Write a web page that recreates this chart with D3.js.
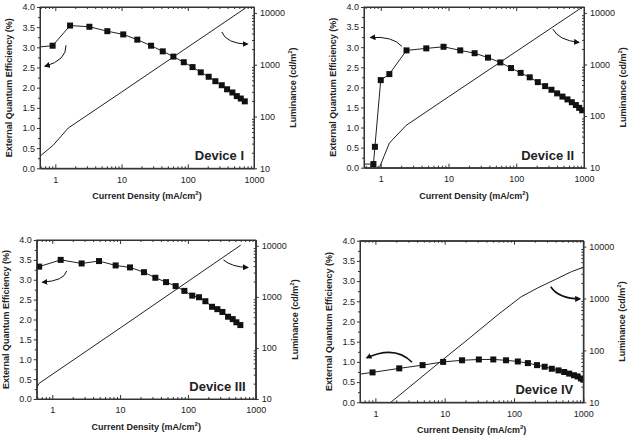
<!DOCTYPE html>
<html>
<head>
<meta charset="utf-8">
<script src="https://cdn.jsdelivr.net/npm/d3@7"></script>
<style>
  body { margin: 0; background: #fff; }
  text { font-family: "Liberation Sans", Arial, sans-serif; fill: #222; }
</style>
</head>
<body>
<svg id="chart" width="629" height="439"></svg>
<script>
// tick values
const xTicks = [1, 10, 100, 1000];
const eqeTicks = [0, 0.5, 1, 1.5, 2, 2.5, 3, 3.5, 4];
const lumTicks = [10, 100, 1000, 10000];
const deviceNames = ['Device I', 'Device II', 'Device III', 'Device IV'];

// Device I
const jEqe1 = [0.5, 0.91, 1.67, 3.27, 6.1, 10.6, 17.3, 27.9, 41.9, 60.6, 87, 118, 157, 207, 261, 326, 392, 472, 550, 631, 726];
const eqe1 = [3.0, 3.04, 3.54, 3.51, 3.40, 3.32, 3.19, 3.04, 2.90, 2.77, 2.63, 2.51, 2.38, 2.27, 2.16, 2.06, 1.96, 1.88, 1.79, 1.73, 1.66];
const jLum1 = [0.55, 0.93, 1.57, 10, 750];
const lum1 = [16, 28, 60, 296, 12500];

// Device II
const jEqe2 = [0.5, 0.78, 0.82, 1.0, 1.34, 2.4, 4.7, 8.45, 14.9, 24.3, 38.3, 58.2, 83.7, 116, 158, 208, 267, 331, 401, 481, 570, 661, 758, 849, 940];
const eqe2 = [0.09, 0.09, 0.52, 2.18, 2.33, 2.92, 2.97, 3.01, 2.92, 2.85, 2.74, 2.62, 2.48, 2.36, 2.25, 2.13, 2.03, 1.94, 1.85, 1.77, 1.70, 1.63, 1.56, 1.49, 1.43];
const jLum2 = [0.955, 1.34, 2.37, 10, 995];
const lum2 = [10, 30, 66, 236, 13500];

// Device III
const jEqe3 = [0.64, 1.33, 2.71, 4.89, 8.6, 14, 22.5, 33.1, 47.6, 66, 88.7, 116, 146, 181, 227, 272, 323, 391, 458, 519, 594];
const eqe3 = [3.33, 3.50, 3.41, 3.47, 3.36, 3.31, 3.19, 3.05, 2.94, 2.84, 2.72, 2.60, 2.56, 2.46, 2.32, 2.26, 2.19, 2.07, 2.01, 1.93, 1.86];
const jLum3 = [0.59, 0.64, 10, 601];
const lum3 = [16.9, 20.3, 245, 10300];

// Device IV
const jEqe4 = [0.5, 0.91, 2.21, 4.8, 9.5, 17.8, 31.1, 50.3, 76.8, 113.6, 158.6, 215, 277, 351, 438, 530, 626, 732, 828, 925, 1000];
const eqe4 = [0.68, 0.74, 0.84, 0.92, 1.00, 1.04, 1.06, 1.06, 1.04, 1.01, 0.97, 0.92, 0.88, 0.83, 0.79, 0.75, 0.71, 0.67, 0.64, 0.59, 0.56];
const jLum4 = [1.67, 8.7, 23.8, 60, 127, 220, 388, 678, 1000];
const lum4 = [10, 61, 181, 500, 1080, 1600, 2300, 3300, 3990];

// curved arrows: [start, control, end] in (J, EQE) units
const arrows1 = [[[1.45, 3.05], [1.48, 2.68], [0.70, 2.53]], [[326, 3.38], [387, 3.09], [795, 3.08]]];
const arrows2 = [[[2.05, 3.02], [1.5, 3.28], [0.71, 3.24]], [[347, 3.45], [425, 3.17], [839, 3.12]]];
const arrows3 = [[[1.63, 3.22], [1.49, 2.97], [0.72, 2.94]], [[334, 3.50], [443, 3.32], [763, 3.31]]];
const arrows4 = [[[3.38, 0.99], [1.93, 1.42], [0.75, 1.10]], [[339, 2.86], [443, 2.56], [895, 2.56]]];

const panels = [
  {l: 40, t: 7, r: 254, b: 168.3, xmin: 0.587, jE: jEqe1, eqe: eqe1, jL: jLum1, lum: lum1, arrows: arrows1, aw: 1},
  {l: 364, t: 7, r: 584, b: 167.7, xmin: 0.566, jE: jEqe2, eqe: eqe2, jL: jLum2, lum: lum2, arrows: arrows2, aw: 1},
  {l: 36.7, t: 240, r: 255.7, b: 399, xmin: 0.589, jE: jEqe3, eqe: eqe3, jL: jLum3, lum: lum3, arrows: arrows3, aw: 1},
  {l: 360, t: 240.7, r: 583.3, b: 402.3, xmin: 0.6, jE: jEqe4, eqe: eqe4, jL: jLum4, lum: lum4, arrows: arrows4, aw: 1.6}
];

const svg = d3.select('#chart');
const defs = svg.append('defs');
defs.append('marker').attr('id', 'head')
  .attr('viewBox', '0 0 10 10').attr('refX', 8).attr('refY', 5)
  .attr('markerWidth', 6).attr('markerHeight', 6).attr('markerUnits', 'userSpaceOnUse')
  .attr('orient', 'auto')
  .append('path').attr('d', 'M0,0 L10,5 L0,10 z').attr('fill', '#111');

const xMinor = [];
[0.1, 1, 10, 100].forEach(d => { for (let k = 2; k <= 9; k++) xMinor.push(d * k); });
const lumMinor = [];
[10, 100, 1000, 10000].forEach(d => { for (let k = 2; k <= 9; k++) lumMinor.push(d * k); });
const eqeMinor = d3.range(0.25, 4, 0.5);

panels.forEach((p, i) => {
  const x = d3.scaleLog().domain([p.xmin, 1000]).range([p.l, p.r]);
  const y = d3.scaleLinear().domain([0, 4]).range([p.b, p.t]);
  const y2 = d3.scaleLog().domain([10, 13000]).range([p.b, p.t]);
  const g = svg.append('g');

  const styleAxis = sel => {
    sel.select('.domain').attr('stroke', '#333');
    sel.selectAll('line').attr('stroke', '#333');
    sel.selectAll('text').attr('font-size', 9).attr('fill', '#222');
  };

  // bottom axis
  const xMin = xMinor.filter(v => v >= p.xmin && v <= 1000);
  g.append('g').attr('transform', `translate(0,${p.b})`)
    .call(d3.axisBottom(x).tickValues(xTicks).tickFormat(d3.format('d')).tickSizeInner(-4).tickSizeOuter(0).tickPadding(8))
    .call(styleAxis);
  g.append('g').attr('transform', `translate(0,${p.b})`)
    .call(d3.axisBottom(x).tickValues(xMin).tickFormat('').tickSizeInner(-2).tickSizeOuter(0))
    .call(styleAxis);
  // top axis (mirror)
  g.append('g').attr('transform', `translate(0,${p.t})`)
    .call(d3.axisTop(x).tickValues(xTicks).tickFormat('').tickSizeInner(-4).tickSizeOuter(0))
    .call(styleAxis);
  g.append('g').attr('transform', `translate(0,${p.t})`)
    .call(d3.axisTop(x).tickValues(xMin).tickFormat('').tickSizeInner(-2).tickSizeOuter(0))
    .call(styleAxis);

  // left axis
  g.append('g').attr('transform', `translate(${p.l},0)`)
    .call(d3.axisLeft(y).tickValues(eqeTicks).tickFormat(d3.format('.1f')).tickSizeInner(3).tickSizeOuter(0).tickPadding(2))
    .call(styleAxis);
  g.append('g').attr('transform', `translate(${p.l},0)`)
    .call(d3.axisLeft(y).tickValues(eqeMinor).tickFormat('').tickSizeInner(2).tickSizeOuter(0))
    .call(styleAxis);

  // right axis
  g.append('g').attr('transform', `translate(${p.r},0)`)
    .call(d3.axisRight(y2).tickValues(lumTicks).tickFormat(d3.format('d')).tickSizeInner(3).tickSizeOuter(0).tickPadding(3))
    .call(styleAxis);
  g.append('g').attr('transform', `translate(${p.r},0)`)
    .call(d3.axisRight(y2).tickValues(lumMinor.filter(v => v < 13000)).tickFormat('').tickSizeInner(-2).tickSizeOuter(0))
    .call(styleAxis);

  // axis titles
  const xt = g.append('text').attr('x', (p.l + p.r) / 2).attr('y', p.b + 31)
    .attr('text-anchor', 'middle').attr('font-size', 9).attr('font-weight', 'bold');
  xt.append('tspan').text('Current Density (mA/cm');
  xt.append('tspan').attr('font-size', 6).attr('dy', -4).text('2');
  xt.append('tspan').attr('dy', 4).text(')');
  g.append('text').attr('transform', `translate(${p.l - 28},${(p.t + p.b) / 2}) rotate(-90)`)
    .attr('text-anchor', 'middle').attr('font-size', 9).attr('font-weight', 'bold')
    .text('External Quantum Efficiency (%)');
  const lt = g.append('text').attr('transform', `translate(${p.r + 42},${(p.t + p.b) / 2}) rotate(-90)`)
    .attr('text-anchor', 'middle').attr('font-size', 9).attr('font-weight', 'bold');
  lt.append('tspan').text('Luminance (cd/m');
  lt.append('tspan').attr('font-size', 6).attr('dy', -4).text('2');
  lt.append('tspan').attr('dy', 4).text(')');

  // clip
  const cid = 'clip' + i;
  defs.append('clipPath').attr('id', cid).append('rect')
    .attr('x', p.l).attr('y', p.t).attr('width', p.r - p.l).attr('height', p.b - p.t);
  const plot = g.append('g').attr('clip-path', `url(#${cid})`);

  // luminance line
  const lumData = p.jL.map((d, k) => [d, p.lum[k]]);
  plot.append('path').datum(lumData)
    .attr('d', d3.line().x(d => x(d[0])).y(d => y2(d[1])))
    .attr('fill', 'none').attr('stroke', '#222').attr('stroke-width', 1);

  // EQE line + markers
  const eqeData = p.jE.map((d, k) => [d, p.eqe[k]]);
  plot.append('path').datum(eqeData)
    .attr('d', d3.line().x(d => x(d[0])).y(d => y(d[1])))
    .attr('fill', 'none').attr('stroke', '#222').attr('stroke-width', 1);
  plot.selectAll('rect.pt').data(eqeData).enter().append('rect').attr('class', 'pt')
    .attr('x', d => x(d[0]) - 3).attr('y', d => y(d[1]) - 3)
    .attr('width', 6).attr('height', 6).attr('fill', '#111');

  // frame
  g.append('rect').attr('x', p.l).attr('y', p.t).attr('width', p.r - p.l).attr('height', p.b - p.t)
    .attr('fill', 'none').attr('stroke', '#333').attr('stroke-width', 1);

  // arrows
  p.arrows.forEach(a => {
    const pts = a.map(d => [x(d[0]), y(d[1])]);
    g.append('path')
      .attr('d', `M${pts[0][0]},${pts[0][1]} Q${pts[1][0]},${pts[1][1]} ${pts[2][0]},${pts[2][1]}`)
      .attr('fill', 'none').attr('stroke', '#111').attr('stroke-width', p.aw)
      .attr('marker-end', 'url(#head)');
  });

  // device label
  g.append('text').attr('x', p.r - 10).attr('y', p.b - 8)
    .attr('text-anchor', 'end').attr('font-size', 13).attr('font-weight', 'bold')
    .text(deviceNames[i]);
});
</script>
</body>
</html>
